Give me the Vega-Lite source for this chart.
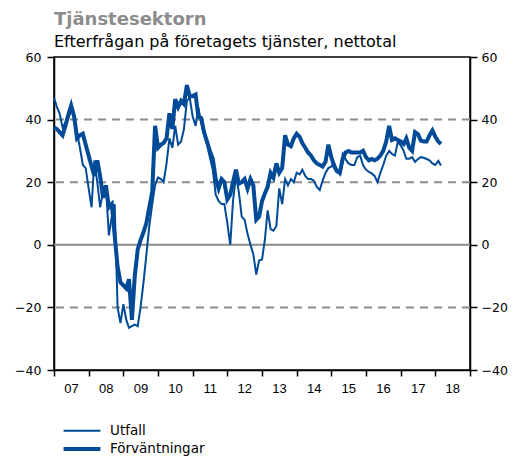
{
  "$schema": "https://vega.github.io/schema/vega-lite/v6.json",
  "width": 416,
  "height": 313,
  "autosize": {"type": "none"},
  "padding": {"left": 54, "top": 57, "right": 55, "bottom": 87},
  "background": "white",
  "config": {"view": {"stroke": "black", "strokeWidth": 1.5}, "font": "DejaVu Sans"},
  "title": {
    "text": "Tjänstesektorn",
    "subtitle": "Efterfrågan på företagets tjänster, nettotal",
    "anchor": "start",
    "frame": "group",
    "font": "DejaVu Sans",
    "fontSize": 18,
    "fontWeight": "bold",
    "color": "#8c8c8c",
    "subtitleFont": "DejaVu Sans",
    "subtitleFontSize": 16,
    "subtitleColor": "black",
    "subtitlePadding": 5,
    "offset": 1
  },
  "data": {
    "values": [
      {"d": "2007-01", "Utfall": 47, "Förväntningar": 37.5},
      {"d": "2007-02", "Utfall": 44, "Förväntningar": 37},
      {"d": "2007-03", "Utfall": 42, "Förväntningar": 36},
      {"d": "2007-04", "Utfall": 37.5, "Förväntningar": 35},
      {"d": "2007-05", "Utfall": 39, "Förväntningar": 38},
      {"d": "2007-06", "Utfall": 40.5, "Förväntningar": 41.5},
      {"d": "2007-07", "Utfall": 43, "Förväntningar": 44.5},
      {"d": "2007-08", "Utfall": 41, "Förväntningar": 41},
      {"d": "2007-09", "Utfall": 36, "Förväntningar": 34},
      {"d": "2007-10", "Utfall": 31, "Förväntningar": 35},
      {"d": "2007-11", "Utfall": 25.5, "Förväntningar": 35.5},
      {"d": "2007-12", "Utfall": 24.5, "Förväntningar": 32},
      {"d": "2008-01", "Utfall": 18, "Förväntningar": 28.5},
      {"d": "2008-02", "Utfall": 12, "Förväntningar": 25},
      {"d": "2008-03", "Utfall": 27, "Förväntningar": 22},
      {"d": "2008-04", "Utfall": 20, "Förväntningar": 27},
      {"d": "2008-05", "Utfall": 12, "Förväntningar": 22},
      {"d": "2008-06", "Utfall": 17, "Förväntningar": 15},
      {"d": "2008-07", "Utfall": 19, "Förväntningar": 19},
      {"d": "2008-08", "Utfall": 3, "Förväntningar": 12},
      {"d": "2008-09", "Utfall": 9, "Förväntningar": 13},
      {"d": "2008-10", "Utfall": 13, "Förväntningar": 3},
      {"d": "2008-11", "Utfall": -20, "Förväntningar": -7},
      {"d": "2008-12", "Utfall": -25, "Förväntningar": -12},
      {"d": "2009-01", "Utfall": -19, "Förväntningar": -13},
      {"d": "2009-02", "Utfall": -24, "Förväntningar": -14},
      {"d": "2009-03", "Utfall": -26.5, "Förväntningar": -11},
      {"d": "2009-04", "Utfall": -26, "Förväntningar": -24},
      {"d": "2009-05", "Utfall": -25.5, "Förväntningar": -10},
      {"d": "2009-06", "Utfall": -26, "Förväntningar": -1.5},
      {"d": "2009-07", "Utfall": -20, "Förväntningar": 1.5},
      {"d": "2009-08", "Utfall": -12, "Förväntningar": 4},
      {"d": "2009-09", "Utfall": -3, "Förväntningar": 7},
      {"d": "2009-10", "Utfall": 6, "Förväntningar": 12},
      {"d": "2009-11", "Utfall": 13, "Förväntningar": 17},
      {"d": "2009-12", "Utfall": 19, "Förväntningar": 38},
      {"d": "2010-01", "Utfall": 21.5, "Förväntningar": 31},
      {"d": "2010-02", "Utfall": 21, "Förväntningar": 32},
      {"d": "2010-03", "Utfall": 20, "Förväntningar": 32.5},
      {"d": "2010-04", "Utfall": 26, "Förväntningar": 34},
      {"d": "2010-05", "Utfall": 34, "Förväntningar": 42},
      {"d": "2010-06", "Utfall": 31, "Förväntningar": 37},
      {"d": "2010-07", "Utfall": 38, "Förväntningar": 46.5},
      {"d": "2010-08", "Utfall": 32, "Förväntningar": 44},
      {"d": "2010-09", "Utfall": 33, "Förväntningar": 46},
      {"d": "2010-10", "Utfall": 37, "Förväntningar": 45},
      {"d": "2010-11", "Utfall": 46, "Förväntningar": 51},
      {"d": "2010-12", "Utfall": 47, "Förväntningar": 47.5},
      {"d": "2011-01", "Utfall": 41, "Förväntningar": 47.5},
      {"d": "2011-02", "Utfall": 38, "Förväntningar": 48},
      {"d": "2011-03", "Utfall": 44, "Förväntningar": 41},
      {"d": "2011-04", "Utfall": 39, "Förväntningar": 40.5},
      {"d": "2011-05", "Utfall": 35, "Förväntningar": 36},
      {"d": "2011-06", "Utfall": 32, "Förväntningar": 33},
      {"d": "2011-07", "Utfall": 28, "Förväntningar": 30},
      {"d": "2011-08", "Utfall": 24, "Förväntningar": 27.5},
      {"d": "2011-09", "Utfall": 16, "Förväntningar": 21},
      {"d": "2011-10", "Utfall": 14, "Förväntningar": 18},
      {"d": "2011-11", "Utfall": 13, "Förväntningar": 21},
      {"d": "2011-12", "Utfall": 13, "Förväntningar": 20},
      {"d": "2012-01", "Utfall": 7, "Förväntningar": 14.5},
      {"d": "2012-02", "Utfall": 0, "Förväntningar": 16},
      {"d": "2012-03", "Utfall": 14, "Förväntningar": 20},
      {"d": "2012-04", "Utfall": 22, "Förväntningar": 24},
      {"d": "2012-05", "Utfall": 17, "Förväntningar": 19.5},
      {"d": "2012-06", "Utfall": 9, "Förväntningar": 20},
      {"d": "2012-07", "Utfall": 8, "Förväntningar": 21},
      {"d": "2012-08", "Utfall": 3.5, "Förväntningar": 18},
      {"d": "2012-09", "Utfall": 0, "Förväntningar": 21},
      {"d": "2012-10", "Utfall": -3, "Förväntningar": 19},
      {"d": "2012-11", "Utfall": -9.5, "Förväntningar": 8},
      {"d": "2012-12", "Utfall": -5, "Förväntningar": 9},
      {"d": "2013-01", "Utfall": -4.7, "Förväntningar": 14},
      {"d": "2013-02", "Utfall": 2, "Förväntningar": 16.5},
      {"d": "2013-03", "Utfall": 11, "Förväntningar": 18.5},
      {"d": "2013-04", "Utfall": 5, "Förväntningar": 23},
      {"d": "2013-05", "Utfall": 4.5, "Förväntningar": 21.5},
      {"d": "2013-06", "Utfall": 6, "Förväntningar": 26},
      {"d": "2013-07", "Utfall": 18, "Förväntningar": 23},
      {"d": "2013-08", "Utfall": 13, "Förväntningar": 24.5},
      {"d": "2013-09", "Utfall": 21, "Förväntningar": 35},
      {"d": "2013-10", "Utfall": 19, "Förväntningar": 32},
      {"d": "2013-11", "Utfall": 21, "Förväntningar": 31.5},
      {"d": "2013-12", "Utfall": 20, "Förväntningar": 34},
      {"d": "2014-01", "Utfall": 23, "Förväntningar": 35.5},
      {"d": "2014-02", "Utfall": 22.5, "Förväntningar": 34.5},
      {"d": "2014-03", "Utfall": 24, "Förväntningar": 32.5},
      {"d": "2014-04", "Utfall": 22, "Förväntningar": 31},
      {"d": "2014-05", "Utfall": 21, "Förväntningar": 29.5},
      {"d": "2014-06", "Utfall": 21, "Förväntningar": 28.5},
      {"d": "2014-07", "Utfall": 20.5, "Förväntningar": 27},
      {"d": "2014-08", "Utfall": 18.5, "Förväntningar": 26},
      {"d": "2014-09", "Utfall": 17.5, "Förväntningar": 25.5},
      {"d": "2014-10", "Utfall": 20.5, "Förväntningar": 25},
      {"d": "2014-11", "Utfall": 23, "Förväntningar": 26.5},
      {"d": "2014-12", "Utfall": 24.5, "Förväntningar": 32},
      {"d": "2015-01", "Utfall": 25, "Förväntningar": 28},
      {"d": "2015-02", "Utfall": 26, "Förväntningar": 25},
      {"d": "2015-03", "Utfall": 24, "Förväntningar": 23.5},
      {"d": "2015-04", "Utfall": 22.5, "Förväntningar": 23},
      {"d": "2015-05", "Utfall": 29, "Förväntningar": 27.5},
      {"d": "2015-06", "Utfall": 27.3, "Förväntningar": 29.5},
      {"d": "2015-07", "Utfall": 26, "Förväntningar": 30},
      {"d": "2015-08", "Utfall": 25.5, "Förväntningar": 29.5},
      {"d": "2015-09", "Utfall": 25.5, "Förväntningar": 29.5},
      {"d": "2015-10", "Utfall": 28, "Förväntningar": 29.5},
      {"d": "2015-11", "Utfall": 28.5, "Förväntningar": 29.5},
      {"d": "2015-12", "Utfall": 25.5, "Förväntningar": 30},
      {"d": "2016-01", "Utfall": 24, "Förväntningar": 28},
      {"d": "2016-02", "Utfall": 23.3, "Förväntningar": 27},
      {"d": "2016-03", "Utfall": 22.8, "Förväntningar": 27.4},
      {"d": "2016-04", "Utfall": 22, "Förväntningar": 27},
      {"d": "2016-05", "Utfall": 20, "Förväntningar": 27.5},
      {"d": "2016-06", "Utfall": 23, "Förväntningar": 28.5},
      {"d": "2016-07", "Utfall": 25.5, "Förväntningar": 30},
      {"d": "2016-08", "Utfall": 28.5, "Förväntningar": 33},
      {"d": "2016-09", "Utfall": 30, "Förväntningar": 38},
      {"d": "2016-10", "Utfall": 29, "Förväntningar": 33.5},
      {"d": "2016-11", "Utfall": 28.5, "Förväntningar": 34},
      {"d": "2016-12", "Utfall": 32.8, "Förväntningar": 33.5},
      {"d": "2017-01", "Utfall": 31.8, "Förväntningar": 33},
      {"d": "2017-02", "Utfall": 30, "Förväntningar": 32.2},
      {"d": "2017-03", "Utfall": 27.5, "Förväntningar": 34},
      {"d": "2017-04", "Utfall": 27.5, "Förväntningar": 31},
      {"d": "2017-05", "Utfall": 28, "Förväntningar": 30},
      {"d": "2017-06", "Utfall": 26.5, "Förväntningar": 36},
      {"d": "2017-07", "Utfall": 27.4, "Förväntningar": 35.4},
      {"d": "2017-08", "Utfall": 28, "Förväntningar": 33.3},
      {"d": "2017-09", "Utfall": 27.8, "Förväntningar": 33},
      {"d": "2017-10", "Utfall": 27.4, "Förväntningar": 33},
      {"d": "2017-11", "Utfall": 27, "Förväntningar": 35},
      {"d": "2017-12", "Utfall": 26, "Förväntningar": 36.5},
      {"d": "2018-01", "Utfall": 25.5, "Förväntningar": 34.5},
      {"d": "2018-02", "Utfall": 26.8, "Förväntningar": 33},
      {"d": "2018-03", "Utfall": 25.3, "Förväntningar": 32.2}
    ]
  },
  "layer": [
    {
      "data": {"values": [{"g": -20}, {"g": 0}, {"g": 20}, {"g": 40}]},
      "mark": {"type": "rule", "color": "#8c8c8c", "strokeWidth": 2},
      "encoding": {
        "y": {
          "field": "g",
          "type": "quantitative",
          "scale": {"domain": [-40, 60], "nice": false},
          "axis": {
            "orient": "right",
            "values": [-40, -20, 0, 20, 40, 60],
            "title": null,
            "grid": false,
            "domainColor": "black",
            "domainWidth": 1.5,
            "tickColor": "black",
            "tickWidth": 1.5,
            "tickSize": 7,
            "labelFont": "DejaVu Sans",
            "labelFontSize": 12.5,
            "labelColor": "black",
            "labelPadding": 4,
            "labelFlush": false
          }
        },
        "strokeDash": {
          "condition": {"test": "datum.g === 0", "value": [1, 0]},
          "value": [8, 6]
        }
      }
    },
    {
      "transform": [{"fold": ["Utfall", "Förväntningar"], "as": ["serie", "value"]}],
      "mark": {"type": "line", "interpolate": "linear"},
      "encoding": {
        "x": {
          "field": "d",
          "type": "temporal",
          "scale": {
            "type": "utc",
            "domain": [
              {"year": 2007, "month": 1, "date": 1, "utc": true},
              {"year": 2019, "month": 1, "date": 1, "utc": true}
            ]
          },
          "axis": {
            "title": null,
            "grid": false,
            "tickCount": {"interval": "year", "step": 1},
            "labelExpr": "utcyear(datum.value) > 2018 ? '' : utcFormat(datum.value, '%y')",
            "labelOffset": 17,
            "labelAlign": "center",
            "labelFlush": false,
            "labelOverlap": false,
            "labelPadding": 6,
            "labelFont": "Liberation Sans",
            "labelFontSize": 13,
            "labelColor": "black",
            "domainColor": "black",
            "domainWidth": 1.5,
            "tickColor": "black",
            "tickWidth": 1.5,
            "tickSize": 6
          }
        },
        "y": {
          "field": "value",
          "type": "quantitative",
          "scale": {"domain": [-40, 60], "nice": false},
          "axis": {
            "orient": "left",
            "values": [-40, -20, 0, 20, 40, 60],
            "title": null,
            "grid": false,
            "domainColor": "black",
            "domainWidth": 1.5,
            "tickColor": "black",
            "tickWidth": 1.5,
            "tickSize": 7,
            "labelFont": "DejaVu Sans",
            "labelFontSize": 12.5,
            "labelColor": "black",
            "labelPadding": 6,
            "labelFlush": false
          }
        },
        "color": {
          "field": "serie",
          "type": "nominal",
          "scale": {"domain": ["Utfall", "Förväntningar"], "range": ["#004a97", "#004a97"]},
          "legend": {
            "title": null,
            "orient": "none",
            "legendX": 21,
            "legendY": 367,
            "symbolType": "M-4,0H4",
            "symbolSize": 85,
            "rowPadding": 3,
            "labelFont": "DejaVu Sans",
            "labelFontSize": 13.5,
            "labelColor": "black",
            "labelOffset": 21
          }
        },
        "strokeWidth": {
          "field": "serie",
          "type": "nominal",
          "scale": {"type": "point", "domain": ["Utfall", "Förväntningar"], "range": [2, 4], "padding": 0},
          "legend": {
            "title": null,
            "orient": "none",
            "legendX": 21,
            "legendY": 367,
            "symbolType": "M-4,0H4",
            "symbolSize": 85,
            "rowPadding": 3,
            "labelFont": "DejaVu Sans",
            "labelFontSize": 13.5,
            "labelColor": "black",
            "labelOffset": 21
          }
        }
      }
    }
  ],
  "resolve": {"scale": {"y": "independent"}, "axis": {"y": "independent"}}
}
